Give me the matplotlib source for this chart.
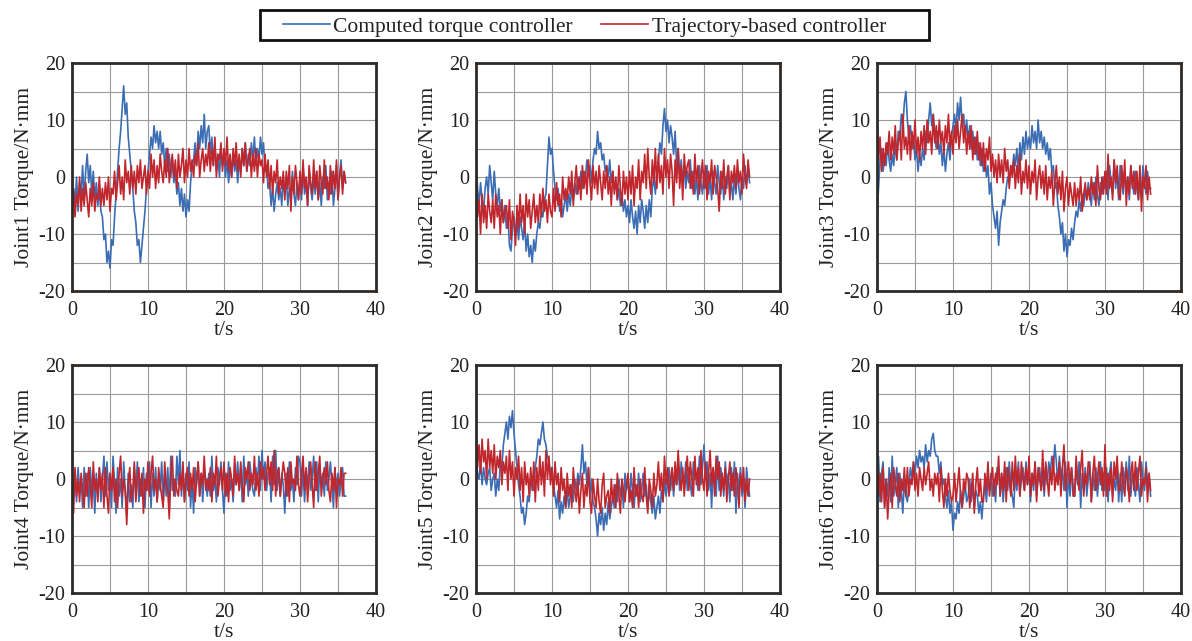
import numpy as np
import matplotlib
matplotlib.use("Agg")
import matplotlib.pyplot as plt
from matplotlib.patches import Rectangle

plt.rcParams['font.family'] = ['Liberation Serif', 'DejaVu Serif']
plt.rcParams['axes.unicode_minus'] = False

# ---------------- data ----------------
t_start, t_step = 0.0, 0.2   # samples every 0.2 s, 0 .. 36 s

series_names = ["Computed torque controller", "Trajectory-based controller"]
joint_labels = ["Joint1 Torque/N·mm", "Joint2 Torque/N·mm", "Joint3 Torque/N·mm",
                "Joint4 Torque/N·mm", "Joint5 Torque/N·mm", "Joint6 Torque/N·mm"]
x_ticks = [0, 10, 20, 30, 40]
y_ticks = [-20, -10, 0, 10, 20]

j1_ctc = [-7, -2, -5, 0, -6, -1, -3, 2, -4, 1,
          4, -1, 2, -3, 1, -4, -1, -5, -2, -6,
          -7, -11, -10, -15, -13, -16, -11, -12, -7, -3,
          1, 5, 8, 12, 16, 11, 13, 7, 4, 1,
          -2, -6, -8, -12, -11, -15, -12, -9, -6, -2,
          1, 4, 7, 5, 9, 6, 8, 5, 8, 4,
          6, 2, 5, 1, 4, 0, 3, -1, 1, -3,
          -1, -5, -2, -6, -3, -7, -4, -6, -1, 2,
          3, 6, 2, 8, 5, 9, 6, 11, 5, 8,
          9, 4, 7, 2, 6, 1, 4, 0, 5, 2,
          4, 0, 3, -1, 2, 0, 4, 1, 3, -1,
          3, 1, 5, 2, 6, 1, 4, 2, 6, 3,
          7, 2, 5, 3, 7, 4, 6, 1, 2, -2,
          -1, -5, -2, -6, -3, -1, -4, -2, -5, 0,
          -3, 0, -5, -2, -4, 1, -3, -5, -1, -4,
          0, -4, 2, -3, -1, -5, 1, -2, -4, 0,
          -3, 1, -4, -1, -5, 0, -2, 2, -4, -1,
          -3, 1, -5, -2, 2, -4, 0, 3, -2, 1,
          -1]
j1_tbc = [-6, -2, -7, -3, -5, 0, -6, -2, -5, -1,
          -4, -7, -2, -5, -1, -6, -3, -4, 0, -5,
          -2, -5, -1, -4, 0, -6, -2, -3, 1, -4,
          -1, 2, -3, 0, -4, 3, -1, 1, -3, 2,
          -2, 1, -3, 2, -1, 3, -2, 0, 2, -3,
          1, -2, 4, 0, 3, -2, 2, -1, 4, 1,
          -1, 3, 0, 5, -1, 2, 4, 0, 3, -2,
          4, 0, 2, 5, -1, 3, 0, 5, 1, 3,
          0, 4, 2, 6, 0, 3, 5, 1, 4, 2,
          6, 1, 5, 2, 7, 0, 4, 3, 6, 1,
          5, 2, 7, 1, 4, 0, 5, 2, 6, 1,
          4, 0, 5, 2, 6, 1, 3, 5, 0, 4,
          1, 5, 0, 4, 2, 3, -1, 4, 0, 3,
          -2, 2, -3, 1, -1, 3, -3, 0, -2, 1,
          -4, 1, -2, 2, -6, 0, -3, 2, -1, -4,
          1, -3, 3, -2, 0, -5, 2, -1, -3, 3,
          -2, 1, -4, 2, -1, -3, 3, -2, 0, -4,
          2, -3, 1, -2, 3, -4, 0, 2, -3, 1,
          -1]

j2_ctc = [3, -2, -5, -1, -4, -6, -2, 0, -3, 2,
          -1, -4, 1, -3, -5, -2, -6, -4, -8, -5,
          -9, -7, -12, -13, -9, -7, -10, -8, -11, -7,
          -9, -11, -8, -13, -10, -14, -12, -15, -11, -13,
          -10, -8, -9, -6, -7, -4, -3, 2, 7, 4,
          5, 1, -2, -4, -2, -6, -4, -7, -5, -3,
          -6, -3, -5, -2, -4, -1, -3, 0, -2, 1,
          -2, 1, 0, 3, 1, 2, -1, 3, 5, 4,
          8, 5, 6, 3, 4, 1, 2, 0, 3, -1,
          1, -2, -1, -4, -2, -5, -3, -6, -4, -7,
          -5, -8, -4, -7, -9, -6, -10, -5, -8, -4,
          -6, -9, -5, -8, -4, -7, -2, 0, -3, 1,
          3, 6, 4, 9, 12, 8, 10, 6, 9, 7,
          4, 8, 2, 5, 0, 3, -1, 2, -2, 1,
          -1, 3, -2, 1, -3, 0, -4, 2, -1, -3,
          1, -2, 2, -3, 0, -4, 1, -1, -3, 2,
          -1, -3, 1, -4, 0, -2, 2, -3, -1, -4,
          0, -3, 1, -2, -4, 0, -2, 2, -1, 1,
          -1]
j2_tbc = [-2, -7, -4, -10, -3, -8, -5, -9, -3, -6,
          -8, -4, -9, -3, -7, -5, -10, -4, -8, -6,
          -5, -9, -4, -11, -6, -8, -12, -5, -9, -3,
          -8, -5, -10, -3, -7, -4, -9, -6, -3, -8,
          -5, -8, -3, -7, -2, -6, -4, -8, -3, -6,
          -7, -2, -6, -1, -5, -3, -7, 0, -4, -2,
          -4, 0, -3, 1, -5, -1, 2, -3, 0, -4,
          2, -2, 1, -3, 3, -1, -4, 2, -2, 1,
          -3, 2, -1, -4, 1, -2, 2, -3, 0, -5,
          1, -3, 0, -4, 2, -2, -5, 1, -3, 0,
          -4, 1, -3, 2, -5, 0, -2, 3, -4, 1,
          -1, 4, -2, 5, 0, -3, 3, -1, 5, -2,
          4, -1, 2, -3, 5, 0, 3, -2, 4, 1,
          -5, 3, -1, 5, -2, 2, -4, 4, 0, 2,
          3, -2, 1, -3, 4, -1, 2, -3, 0, 3,
          -2, 2, -4, 1, -1, 3, -3, 2, 0, -2,
          -6, 1, -2, 3, -3, 0, 2, -4, 1, -1,
          2, -2, 3, -1, 1, -3, 4, 0, -2, 3,
          0]

j3_ctc = [-7, -2, 3, 5, 1, 4, 2, 6, 3, 1,
          4, 2, 6, 3, 8, 7, 11, 9, 13, 15,
          10, 7, 9, 5, 7, 3, 5, 1, 4, 2,
          5, 3, 8, 6, 10, 13, 9, 11, 7, 5,
          8, 4, 6, 2, 5, 1, 4, 6, 3, 7,
          9, 11, 8, 13, 10, 14, 9, 11, 7, 10,
          6, 9, 5, 8, 4, 7, 3, 6, 2, 5,
          1, 4, 0, 2, -3, -1, -5, -7, -9, -6,
          -12, -8, -6, -4, -5, -2, 0, -1, 2, 1,
          4, 2, 5, 1, 6, 3, 7, 4, 8, 5,
          7, 5, 9, 6, 8, 5, 10, 6, 8, 5,
          7, 4, 6, 3, 5, 1, 2, -2, -1, -5,
          -7, -10, -8, -13, -10, -14, -11, -12, -9, -11,
          -8, -6, -7, -4, -6, -3, -5, -2, -4, -1,
          -3, -5, -1, -4, 0, -3, -5, -1, -3, 0,
          -2, 1, -4, 2, -1, -3, 3, -2, 1, -4,
          2, -1, -3, 1, -2, 0, -4, 2, -1, -3,
          1, -2, -4, 0, -3, 2, -1, -3, 1, -2,
          -2]
j3_tbc = [10, 3, 7, 1, 5, 2, 6, 4, 8, 3,
          7, 4, 9, 3, 6, 8, 3, 11, 5, 7,
          4, 9, 3, 8, 5, 10, 4, 7, 3, 8,
          5, 9, 4, 10, 6, 8, 4, 11, 6, 9,
          5, 10, 6, 8, 4, 9, 6, 11, 5, 8,
          4, 9, 6, 10, 5, 8, 11, 6, 9, 4,
          8, 5, 9, 3, 7, 4, 8, 3, 6, 2,
          6, 1, 5, 3, 7, 1, 4, 0, 3, -1,
          4, 0, 3, -1, 5, 1, 3, -2, 2, 0,
          3, -2, 2, -1, 4, -3, 1, -1, 3, -2,
          2, -3, 1, -1, 3, -4, 0, 2, -2, 1,
          -3, 2, -4, 0, -2, 1, -5, -1, 2, -3,
          0, -4, 1, -6, -2, 0, -5, -1, -3, -5,
          -1, -5, -2, -4, 0, -6, -3, -1, -4, -2,
          -4, 0, -3, -1, -5, 2, -2, -4, 0, -3,
          1, -3, 4, -2, 0, -4, 3, -1, 2, -3,
          -4, 2, -2, 3, -5, 0, -3, 2, -2, 1,
          -3, 1, -4, 2, -6, 0, -2, 2, -4, 0,
          -3]

j4_ctc = [4, -3, 1, -4, 2, -2, 0, -5, 2, -3,
          1, -5, 2, -2, 0, -6, 1, -3, 2, -4,
          0, 4, -3, 3, -2, 1, -5, 4, -1, -6,
          2, -3, 0, -5, 3, -2, -6, 1, -4, -1,
          -5, 2, -2, 3, -4, 0, -3, 2, -5, 1,
          -2, 3, -5, 1, -3, 2, -4, 0, -2, 3,
          -4, 1, -3, 2, -5, 4, -2, 0, -3, 4,
          -1, 5, -3, 2, -4, 1, -2, 3, -5, 0,
          -6, 2, -1, 3, -3, 1, -4, 2, 0, -3,
          1, -3, 4, -2, 0, -4, 2, -1, 3, -2,
          -6, 1, -3, 3, -2, 0, -4, 2, -1, 3,
          -2, 2, -4, 4, -1, 1, -3, 3, 0, -2,
          -3, 2, -1, 4, -2, 5, 0, 3, -2, 1,
          2, -4, 4, -1, 5, -2, 2, -3, 1, -1,
          -6, 1, -3, 3, -2, 0, -4, 2, -1, 4,
          3, -3, 2, -4, 1, -1, 3, -2, 0, 4,
          -2, 3, -4, 2, -1, 1, -3, 3, -2, 0,
          3, -1, -5, 2, -2, 1, -3, 0, 2, -3,
          -3]
j4_tbc = [-1, -6, 2, -3, 0, -4, 1, -2, -5, 1,
          -3, 2, -1, -5, 3, -2, 0, -4, 2, -2,
          1, -5, 2, -3, -6, 1, -2, 2, -4, 0,
          -5, 1, 4, -3, 0, -2, -8, -1, 2, -4,
          -2, 3, -4, 0, 2, -3, 1, -6, 0, -2,
          3, -3, 1, 4, -2, 0, -4, 2, -1, -3,
          -5, 3, -1, -2, -7, 1, 4, -3, 0, -2,
          -3, 1, -2, 3, -4, 0, 2, -3, 1, -2,
          2, -4, 0, 3, -3, 1, -1, 4, -2, 0,
          -2, 2, -4, 1, -1, 4, -3, 0, 2, -2,
          3, -3, 1, -4, 2, 0, -3, 4, -1, 1,
          -2, 3, -1, -4, 2, 0, 3, -2, 1, -1,
          4, -2, 1, -3, 3, 0, 2, -2, 1, 4,
          -1, 3, -2, 5, -3, 1, 2, -3, 0, 3,
          1, -3, 2, -4, 3, -1, 0, -2, 4, -1,
          -3, 1, 4, -2, 2, -4, 0, 3, -1, -5,
          3, -2, 1, 4, -3, 0, 2, -1, 3, -2,
          -4, 1, -2, 2, -5, 0, -1, 2, -3, 1,
          1]

j5_ctc = [4, 1, 0, 3, -1, 2, 0, -1, 1, 2,
          -2, 0, 1, -3, 0, -2, 3, 2, 6, 8,
          10, 7, 11, 9, 12, 8, 5, 2, -1, -3,
          -6, -5, -8, -6, -3, -4, 0, -1, -2, 2,
          4, 7, 6, 8, 10, 7, 6, 4, 3, 1,
          2, -1, -3, -5, -2, -7, -4, -6, -3, -5,
          -2, -5, -3, -1, -4, 0, -2, 1, -1, 2,
          6, 1, 3, -1, 2, -3, 0, -4, -5, -7,
          -10, -6, -8, -5, -9, -6, -8, -4, -7, -5,
          -3, -5, -1, -4, 0, -3, -1, -5, 1, -2,
          0, -4, 1, -2, -5, -1, -3, 1, -4, -2,
          1, -3, -1, -5, -2, -4, -6, -3, -7, -5,
          -3, -6, -2, -4, 0, -3, -1, 2, -2, 1,
          -3, 1, -1, 2, -2, 3, 0, -1, 3, -2,
          2, -1, -3, 3, 0, 1, -2, 4, -1, 2,
          6, 0, 3, -2, 1, -5, 2, 0, -3, 4,
          -2, 2, 0, -3, 3, -1, 1, -4, 2, -2,
          3, -6, 1, -2, 2, -3, 0, -5, 2, -1,
          -3]
j5_tbc = [8, 2, 6, 1, 7, 3, 5, 0, 7, 2,
          5, 1, 6, 0, 4, 2, 5, -1, 3, 1,
          4, -2, 5, 0, 3, -3, 2, 0, 4, -2,
          2, -4, 3, -1, 1, -3, 2, -2, 3, -4,
          2, -2, 4, -1, 3, -3, 5, 0, 4, -1,
          2, -3, 3, -1, 1, -4, 2, -2, 0, -5,
          1, -3, -1, -5, 2, -2, -4, 0, -6, -2,
          1, -5, -1, -3, 2, -4, -6, 0, -3, -5,
          0, -4, -6, -1, 1, -5, -3, -2, -6, 0,
          -4, -1, -5, 1, -3, -6, 0, -2, -4, -1,
          1, -4, -2, -5, 2, -3, -1, -5, 0, -3,
          -4, 2, -3, -6, 0, -2, -5, 1, -3, -1,
          3, -2, 1, -4, 4, -1, 2, -3, 0, 2,
          -2, 3, -1, 5, 0, -2, 2, -3, 1, 4,
          -2, 3, 0, -3, 4, -1, 2, -2, 5, 0,
          -2, 3, -3, 1, 5, -1, 2, -3, 4, 0,
          3, -3, 1, -2, 2, -4, 0, 3, -2, 1,
          -3, 2, -1, -5, 1, -2, 2, -4, 0, -3,
          0]

j6_ctc = [-2, 4, -4, 1, 3, -5, 0, -3, 2, -4,
          4, -3, -1, 2, -5, 1, -2, -6, 0, -3,
          -4, -1, 2, 0, 3, 1, 4, 2, 5, 3,
          4, 2, 6, 3, 5, 4, 7, 8, 5, 4,
          4, 1, 3, -1, 0, -3, -5, -2, -6, -4,
          -9, -6, -7, -4, -6, -2, -5, -3, -1, -4,
          -3, 0, -4, -1, -5, -2, -3, -6, -4, -7,
          -3, -1, -4, 0, -2, 1, -3, 0, -4, 2,
          2, -3, 1, -4, 0, 2, -2, 3, -1, -3,
          -5, 1, -2, 3, -3, 0, 2, -2, 3, -1,
          2, -4, 1, -2, 3, -3, 0, 2, -2, 1,
          -3, 2, -1, 3, 1, 4, 2, 6, 3, -1,
          4, 0, 2, -2, 3, -5, 1, -3, 2, -1,
          -3, 2, -1, 3, -5, 1, -2, 2, -3, 0,
          3, -4, 1, -2, 2, -3, 0, 3, -2, 1,
          -2, 2, -4, 1, 3, -3, 0, -2, 2, -4,
          1, -4, 2, -1, 3, -2, 4, -3, 1, -1,
          -3, 2, -1, -4, 3, 0, -2, 3, -1, 1,
          -3]
j6_tbc = [5, -3, 1, -4, 2, -5, 0, -7, -2, 1,
          -5, 2, -1, -3, 1, -4, 0, -2, 2, -3,
          2, -3, 0, -1, 3, -2, 1, -3, 2, 0,
          -2, 2, -1, 1, 3, -2, 0, -3, 1, -1,
          1, -4, 2, -2, -5, 0, -3, 1, -2, -4,
          -3, 1, -4, -1, 2, -3, -5, 0, -2, 1,
          0, -5, -2, 1, -6, -1, 2, -3, 0, -4,
          -4, 1, -2, 3, -3, 0, 2, -3, 1, -1,
          4, -3, 1, -2, 3, -4, 2, 0, -3, 3,
          -2, 4, -1, 2, -3, 3, 0, -2, 2, -1,
          4, -3, 1, -1, 3, -4, 2, 0, -2, 5,
          -2, 3, 0, -3, 2, -1, 4, -2, 1, -1,
          3, -3, 2, 6, -2, 1, 3, -1, 2, -3,
          -3, 4, 0, -2, 2, 5, -3, 1, -1, 3,
          2, -4, 1, 4, -2, 0, 3, -1, 2, -3,
          6, -3, 1, -2, 2, -4, 3, 0, 4, -2,
          -2, 3, -1, -3, 2, 0, -4, 1, 3, -2,
          3, -2, 1, 4, -3, 0, -1, 2, -4, 1,
          -2]

ctc_data = [j1_ctc, j2_ctc, j3_ctc, j4_ctc, j5_ctc, j6_ctc]
tbc_data = [j1_tbc, j2_tbc, j3_tbc, j4_tbc, j5_tbc, j6_tbc]

# ---------------- styling ----------------
W, H = 1192, 641
fig = plt.figure(figsize=(W / 100, H / 100), dpi=100)

blue = "#3b6db4"
red = "#c0262c"
txt = "#222222"
spine_c = "#2e2a28"

col_left = [72, 476, 877]
row_top = [63, 365]
ax_w, ax_h = 304, 228

handles = None
for k in range(6):
    r, c = divmod(k, 3)
    left = col_left[c] / W
    bottom = 1 - (row_top[r] + ax_h) / H
    ax = fig.add_axes([left, bottom, ax_w / W, ax_h / H])
    yc = np.asarray(ctc_data[k], dtype=float)
    yt = np.asarray(tbc_data[k], dtype=float)
    t = t_start + t_step * np.arange(len(yc))
    l1, = ax.plot(t, yc, color=blue, lw=1.2, label=series_names[0], zorder=3)
    l2, = ax.plot(t, yt, color=red, lw=1.2, label=series_names[1], zorder=4)
    if handles is None:
        handles = [l1, l2]
    ax.set_xlim(0, 40)
    ax.set_ylim(-20, 20)
    ax.set_xticks(x_ticks)
    ax.set_yticks(y_ticks)
    ax.set_xticks(np.arange(0, 41, 5), minor=True)
    ax.set_yticks(np.arange(-20, 21, 5), minor=True)
    ax.grid(True, which="both", color="#9a9a9a", lw=0.8, zorder=0)
    ax.set_axisbelow(True)
    ax.tick_params(which="both", length=0, labelsize=14.5, colors=txt)
    ax.tick_params(axis="x", pad=7)
    ax.tick_params(axis="y", pad=5)
    for s in ax.spines.values():
        s.set_linewidth(2.0)
        s.set_color(spine_c)
        s.set_zorder(6)
    ax.set_xlabel("t/s", fontsize=15.5, color=txt, labelpad=1)
    ax.set_ylabel(joint_labels[k], fontsize=15.5, color=txt, labelpad=3)

# legend box drawn as a plain rectangle
fig.patches.append(Rectangle((260 / W, 1 - 40 / H), (929 - 260) / W, 30 / H,
                             transform=fig.transFigure, facecolor="white",
                             edgecolor="#111111", lw=2.0, zorder=1))
leg = fig.legend(handles, series_names, loc="center left",
                 bbox_to_anchor=(272 / W, 1 - 27 / H),
                 ncol=2, fontsize=15.5, frameon=False, borderpad=0.0,
                 handlelength=2.2, columnspacing=1.3, handletextpad=0.15,
                 labelcolor=txt)
leg.set_zorder(2)

fig.savefig("out.png", dpi=100)
